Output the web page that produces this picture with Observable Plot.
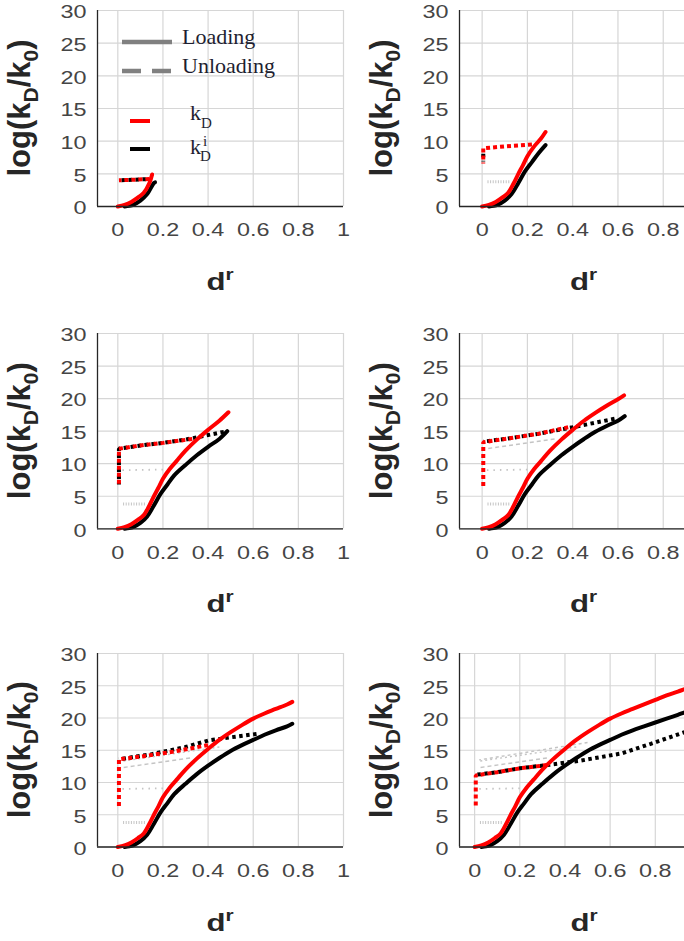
<!DOCTYPE html>
<html><head><meta charset="utf-8">
<script src="https://cdn.jsdelivr.net/npm/d3@7"></script>
<script src="https://cdn.jsdelivr.net/npm/@observablehq/plot@0.6"></script>
<style>
html,body{margin:0;padding:0;background:#fff;}
#fig{position:relative;width:684px;height:941px;overflow:hidden;background:#fff;}
</style></head><body><div id="fig"></div>
<script>
// ---- tick values ----
const xTicks = [0, 0.2, 0.4, 0.6, 0.8, 1];
const yTicks = [0, 5, 10, 15, 20, 25, 30];

// ---- loading path (solid), shared by all panels, cut at each panel's end point ----
const kdLoadD  = [0, 0.03, 0.06, 0.09, 0.115, 0.14, 0.16, 0.18, 0.2, 0.23, 0.26, 0.3, 0.35, 0.4, 0.45, 0.5, 0.55, 0.6, 0.65, 0.7, 0.75, 0.8, 0.85, 0.9, 0.95, 1.0];
const kdLoadV  = [0, 0.25, 0.7, 1.4, 2.1, 3.6, 5.0, 6.3, 7.7, 9.2, 10.4, 12.0, 13.7, 15.2, 16.6, 17.8, 18.9, 19.9, 20.7, 21.4, 22.1, 22.8, 23.5, 24.1, 24.7, 25.2];
const kdiLoadD = [0.03, 0.05, 0.07, 0.1, 0.13, 0.16, 0.19, 0.22, 0.25, 0.3, 0.35, 0.4, 0.45, 0.5, 0.55, 0.6, 0.65, 0.7, 0.75, 0.8, 0.85, 0.9, 0.95, 1.0];
const kdiLoadV = [0, 0.1, 0.3, 0.9, 1.9, 3.6, 5.4, 6.8, 8.2, 9.8, 11.3, 12.6, 13.8, 14.9, 15.8, 16.6, 17.4, 18.1, 18.7, 19.3, 19.9, 20.5, 21.1, 21.6];
// end of loading in each panel [d, value]
const kdLoadEnd  = [[0.152, 4.9], [0.28, 11.4], [0.49, 17.9], [0.627, 20.5], [0.773, 22.5], [1.04, 25.5]];
const kdiLoadEnd = [[0.165, 3.7], [0.28, 9.4], [0.485, 15.0], [0.63, 17.3], [0.773, 19.1], [1.04, 21.9]];

// ---- unloading paths (dotted) per panel, [d, value] ----
const kdUnload1  = [[0.14, 4.2], [0.07, 4.1], [0.005, 4.0]];
const kdiUnload1 = [[0.14, 4.2], [0.07, 4.1], [0.005, 4.0]];
const kdUnload2  = [[0.22, 9.5], [0.1, 9.2], [0.005, 8.9], [0.005, 6.6]];
const kdiUnload2 = [[0.005, 8.6], [0.005, 6.9]];
const kdUnload3  = [[0.33, 13.8], [0.2, 13.2], [0.1, 12.8], [0.005, 12.3], [0.005, 6.5]];
const kdiUnload3 = [[0.485, 15.0], [0.4, 14.4], [0.3, 13.7], [0.2, 13.2], [0.1, 12.8], [0.005, 12.3], [0.005, 6.8]];
const kdUnload4  = [[0.38, 15.6], [0.25, 14.6], [0.1, 13.8], [0.005, 13.3], [0.005, 6.4]];
const kdiUnload4 = [[0.6, 17.0], [0.5, 16.3], [0.4, 15.6], [0.25, 14.6], [0.1, 13.8], [0.005, 13.4]];
const kdUnload5  = [[0.4, 15.8], [0.25, 14.8], [0.1, 14.0], [0.005, 13.6], [0.005, 6.3]];
const kdiUnload5 = [[0.63, 17.6], [0.5, 17.0], [0.4, 16.5], [0.3, 15.5], [0.15, 14.4], [0.005, 13.6]];
const kdUnload6  = [[0.32, 12.7], [0.2, 12.2], [0.1, 11.6], [0.005, 11.1], [0.005, 6.2]];
const kdiUnload6 = [[1.04, 18.8], [0.93, 17.8], [0.78, 16.0], [0.65, 14.5], [0.47, 13.4], [0.32, 12.7], [0.2, 12.2], [0.1, 11.6], [0.005, 11.2]];

// ---- earlier unloading cycles (light grey) ----
const grayUnload1 = [[0.12, 3.8], [0.02, 3.8]];
const grayUnload2 = [[0.2, 9.1], [0.02, 9.0]];
const grayUnload3 = [[0.32, 13.8], [0.02, 12.3]];
const grayUnload4 = [[0.45, 15.5], [0.02, 13.3]];
const grayUnload5 = [[0.5, 16.2], [0.02, 13.5]];

const kdUnloads  = [kdUnload1, kdUnload2, kdUnload3, kdUnload4, kdUnload5, kdUnload6];
const kdiUnloads = [kdiUnload1, kdiUnload2, kdiUnload3, kdiUnload4, kdiUnload5, kdiUnload6];
const grayUnloads = [grayUnload1, grayUnload2, grayUnload3, grayUnload4, grayUnload5];
const grayDash = ["1,1.6", "1.5,5", "4,3", "2,3", "3,3"];
const grayWidth = [3, 1.8, 1.4, 1.4, 1.4];

// ---- panel placement ----
const layout = [
  {left: 0,   top: 0,   ml: 97,  w: 343, ph: 196,   xd: [-0.09, 1.0],   lab: xTicks},
  {left: 342, top: 0,   ml: 117, w: 366, ph: 196,   xd: [-0.1, 1.0],    lab: xTicks.slice(0, 5)},
  {left: 0,   top: 323, ml: 97,  w: 343, ph: 195.3, xd: [-0.09, 1.0],   lab: xTicks},
  {left: 342, top: 323, ml: 117, w: 366, ph: 195.3, xd: [-0.1, 1.0],    lab: xTicks.slice(0, 5)},
  {left: 0,   top: 643, ml: 97,  w: 343, ph: 193.5, xd: [-0.09, 1.0],   lab: xTicks},
  {left: 342, top: 643, ml: 117, w: 367, ph: 193.5, xd: [-0.067, 1.04], lab: xTicks.slice(0, 5)}
];
const MT = 10, MB = 95, STRETCH = 1.3;

const fig = document.getElementById("fig");
const px = p => p[0], py = p => p[1];

layout.forEach((L, i) => {
  const kd = kdLoadD.map((d, j) => [d, kdLoadV[j]]).filter(p => p[0] < kdLoadEnd[i][0]).concat([kdLoadEnd[i]]);
  const kdi = kdiLoadD.map((d, j) => [d, kdiLoadV[j]]).filter(p => p[0] < kdiLoadEnd[i][0]).concat([kdiLoadEnd[i]]);
  const grays = grayUnloads.slice(0, i);
  const svg = Plot.plot({
    width: L.w, height: MT + L.ph + MB,
    marginLeft: L.ml, marginRight: 0, marginTop: MT, marginBottom: MB,
    x: {domain: L.xd},
    y: {domain: [0, 30]},
    style: {background: "transparent", fontFamily: "'Liberation Sans', Arial, sans-serif", fontSize: "18px", color: "#454545", maxWidth: "none"},
    marks: [
      Plot.gridX(xTicks, {stroke: "#d6d6d6", strokeOpacity: 1, strokeWidth: 1.2}),
      Plot.gridY(yTicks, {stroke: "#d6d6d6", strokeOpacity: 1, strokeWidth: 1.2}),
      Plot.axisX(L.lab, {tickSize: 0, tickPadding: 17, label: null, tickFormat: d => String(d)}),
      Plot.axisY(yTicks, {tickSize: 0, tickPadding: 11, label: null, dy: 2}),
      ...grays.map((g, k) => Plot.line(g, {x: px, y: py, stroke: "#c4c4c4", strokeWidth: grayWidth[k], strokeDasharray: grayDash[k], strokeLinecap: "butt"})),
      Plot.line(kdiUnloads[i], {x: px, y: py, stroke: "#000", strokeWidth: 4, strokeDasharray: "3.5,3.5", strokeDashoffset: -3.5, strokeLinecap: "butt", strokeLinejoin: "miter"}),
      Plot.line(kdUnloads[i], {x: px, y: py, stroke: "#ff0000", strokeWidth: 4, strokeDasharray: "4,3", strokeLinecap: "butt", strokeLinejoin: "miter"}),
      Plot.line(kdi, {x: px, y: py, stroke: "#000", strokeWidth: 4, curve: "catmull-rom"}),
      Plot.line(kd, {x: px, y: py, stroke: "#ff0000", strokeWidth: 4, curve: "catmull-rom"}),
      Plot.ruleY([0], {stroke: "#262626", strokeWidth: 1.3}),
      Plot.ruleX([L.xd[0]], {stroke: "#262626", strokeWidth: 1.3})
    ]
  });
  svg.style.position = "absolute";
  svg.style.left = L.left + "px";
  svg.style.top = L.top + "px";
  svg.style.overflow = "visible";
  // widen tick labels like the original rendering (keep Plot's em-based y offsets)
  svg.querySelectorAll('g[aria-label$="tick label"] text').forEach(t => {
    const xa = t.getAttribute("x");
    const tr = t.getAttribute("transform") || "";
    let pre = "";
    if (xa !== null && !isNaN(+xa) && +xa !== 0) { pre = ` translate(${+xa},0)`; t.setAttribute("x", 0); }
    t.setAttribute("transform", `${tr}${pre} scale(${STRETCH},1)`);
  });
  const s = d3.select(svg);
  const cx = (L.ml + L.w) / 2, by = MT + L.ph;
  const xl = s.append("text")
    .attr("transform", `translate(${cx},${by + 84}) scale(${STRETCH},1)`)
    .attr("text-anchor", "middle").attr("font-weight", "bold").attr("font-size", 24)
    .attr("font-family", "'Liberation Sans', Arial, sans-serif").attr("fill", "#262626");
  xl.append("tspan").text("d");
  xl.append("tspan").attr("dy", -10).attr("font-size", 16).text("r");
  const yl = s.append("text")
    .attr("transform", `translate(${L.ml - 67},${MT + L.ph / 2}) rotate(-90)`)
    .attr("text-anchor", "middle").attr("font-weight", "bold").attr("font-size", 31)
    .attr("font-family", "'Liberation Sans', Arial, sans-serif").attr("fill", "#262626");
  yl.append("tspan").text("log(k");
  yl.append("tspan").attr("dy", 8).attr("font-size", 21).text("D");
  yl.append("tspan").attr("dy", -8).text("/k");
  yl.append("tspan").attr("dy", 8).attr("font-size", 21).text("0");
  yl.append("tspan").attr("dy", -8).text(")");
  fig.appendChild(svg);
});

// ---- legend inside the first panel ----
const leg = d3.select(fig).append("svg").attr("width", 342).attr("height", 200)
  .style("position", "absolute").style("left", "0px").style("top", "0px");
leg.append("line").attr("x1", 122).attr("x2", 172).attr("y1", 42).attr("y2", 42).attr("stroke", "#808080").attr("stroke-width", 4.5);
leg.append("line").attr("x1", 122).attr("x2", 172).attr("y1", 71).attr("y2", 71).attr("stroke", "#808080").attr("stroke-width", 4.5).attr("stroke-dasharray", "19,11");
leg.append("line").attr("x1", 130).attr("x2", 150).attr("y1", 121).attr("y2", 121).attr("stroke", "#ff0000").attr("stroke-width", 4);
leg.append("line").attr("x1", 130).attr("x2", 150).attr("y1", 149).attr("y2", 149).attr("stroke", "#000").attr("stroke-width", 4);
const serif = "'Liberation Serif', 'Times New Roman', serif";
leg.append("text").attr("x", 182).attr("y", 44).attr("font-family", serif).attr("font-size", 22).attr("fill", "#1e1e30").text("Loading");
leg.append("text").attr("x", 182).attr("y", 73).attr("font-family", serif).attr("font-size", 22).attr("fill", "#1e1e30").text("Unloading");
const t1 = leg.append("text").attr("x", 190).attr("y", 120).attr("font-family", serif).attr("font-size", 22).attr("fill", "#1e1e30");
t1.append("tspan").text("k");
t1.append("tspan").attr("font-size", 15).attr("dy", 8).text("D");
const t2 = leg.append("text").attr("x", 190).attr("y", 154).attr("font-family", serif).attr("font-size", 22).attr("fill", "#1e1e30");
t2.append("tspan").text("k");
t2.append("tspan").attr("font-size", 15).attr("x", 203).attr("y", 146).text("i");
t2.append("tspan").attr("font-size", 15).attr("x", 200).attr("y", 161).text("D");
</script></body></html>
